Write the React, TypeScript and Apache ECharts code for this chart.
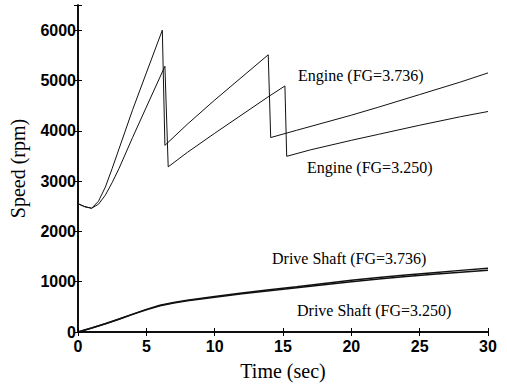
import React, { useEffect, useRef } from "react";
import * as echarts from "echarts";

// Engine speed, final gear 3.736
const engineHighT = [0, 0.5, 1.0, 1.5, 2.0, 2.5, 3.0, 4.0, 5.0, 6.17, 6.36, 8, 10, 12, 13.92, 14.1, 16, 18, 20, 22, 25, 28, 30];
const engineHighV = [2550, 2490, 2460, 2600, 2880, 3250, 3640, 4420, 5150, 6000, 3710, 4130, 4610, 5070, 5510, 3865, 4010, 4160, 4310, 4470, 4720, 4970, 5150];

// Engine speed, final gear 3.250
const engineLowT = [0, 0.5, 1.0, 1.5, 2.0, 2.5, 3.0, 4.0, 5.0, 6.36, 6.6, 8, 10, 12, 14, 15.14, 15.27, 17, 20, 22, 25, 28, 30];
const engineLowV = [2550, 2490, 2460, 2540, 2720, 2970, 3250, 3870, 4470, 5282, 3283, 3570, 3950, 4320, 4690, 4891, 3492, 3620, 3810, 3930, 4110, 4280, 4383];

// Drive shaft speed
const shaftT = [0, 1, 2, 3, 4, 5, 6, 7, 8, 10, 12, 14, 16, 18, 20, 22, 24, 26, 28, 30];
const shaftHighV = [0, 80, 165, 260, 355, 450, 530, 585, 630, 705, 775, 840, 900, 965, 1030, 1085, 1135, 1180, 1225, 1265];
const shaftLowV = [0, 80, 165, 255, 350, 440, 520, 575, 620, 690, 760, 820, 880, 940, 1000, 1055, 1105, 1150, 1190, 1225];

const yTicks = [0, 1000, 2000, 3000, 4000, 5000, 6000];

const labels = [
  { text: "Engine (FG=3.736)", x: 298, y: 75 },
  { text: "Engine (FG=3.250)", x: 307, y: 167 },
  { text: "Drive Shaft (FG=3.736)", x: 272, y: 258 },
  { text: "Drive Shaft (FG=3.250)", x: 297, y: 310 },
];

const pairs = (t: number[], v: number[]) => t.map((x, i) => [x, v[i]]);

export default function App() {
  const ref = useRef<HTMLDivElement>(null);
  useEffect(() => {
    if (!ref.current) return;
    const chart = echarts.init(ref.current, undefined, { renderer: "svg" });
    const serif = "'Liberation Serif', 'DejaVu Serif', serif";
    const sans = "'Liberation Sans', Arial, sans-serif";
    const lineStyle = { color: "#000", width: 1.5 };
    const tickStyle = { show: true, inside: true, length: 4, lineStyle: { color: "#000", width: 1 } };
    const line = (data: number[][], w: number) => ({
      type: "line",
      data,
      showSymbol: false,
      symbol: "none",
      lineStyle: { color: "#111", width: w },
      xAxisIndex: 0,
      yAxisIndex: 0,
    });
    chart.setOption({
      animation: false,
      backgroundColor: "#fff",
      grid: { left: 78, right: 19, top: 5, bottom: 49 },
      xAxis: [
        {
          type: "value",
          min: 0,
          max: 30,
          interval: 5,
          axisLine: { show: true, lineStyle },
          axisTick: tickStyle,
          splitLine: { show: false },
          axisLabel: { color: "#000", fontFamily: sans, fontSize: 16, fontWeight: "bold", margin: 6 },
          name: "Time (sec)",
          nameLocation: "middle",
          nameGap: 29,
          nameTextStyle: { color: "#000", fontFamily: serif, fontSize: 20 },
        },
        {
          type: "value",
          position: "top",
          min: 0,
          max: 30,
          interval: 5,
          axisLine: { show: true, lineStyle },
          axisTick: tickStyle,
          axisLabel: { show: false },
          splitLine: { show: false },
        },
      ],
      yAxis: [
        {
          type: "value",
          min: 0,
          max: 6500,
          interval: 1000,
          axisLine: { show: true, lineStyle },
          axisTick: tickStyle,
          splitLine: { show: false },
          axisLabel: {
            color: "#000",
            fontFamily: sans,
            fontSize: 16,
            fontWeight: "bold",
            margin: 2,
            formatter: (v: number) => (yTicks.includes(v) ? String(v) : ""),
          },
          name: "Speed (rpm)",
          nameLocation: "middle",
          nameGap: 50,
          nameTextStyle: { color: "#000", fontFamily: serif, fontSize: 20 },
        },
        {
          type: "value",
          position: "right",
          min: 0,
          max: 6500,
          interval: 1000,
          axisLine: { show: true, lineStyle },
          axisTick: tickStyle,
          axisLabel: { show: false },
          splitLine: { show: false },
        },
      ],
      series: [
        line(pairs(engineHighT, engineHighV), 1),
        line(pairs(engineLowT, engineLowV), 1),
        line(pairs(shaftT, shaftHighV), 1.5),
        line(pairs(shaftT, shaftLowV), 1.5),
      ],
      graphic: labels.map((l) => ({
        type: "text",
        x: l.x,
        y: l.y,
        style: {
          text: l.text,
          fill: "#000",
          font: `16px ${serif}`,
          textVerticalAlign: "middle",
        },
      })),
    });
    return () => chart.dispose();
  }, []);
  return <div ref={ref} style={{ width: 507, height: 386, position: "absolute", left: 0, top: 0 }} />;
}
